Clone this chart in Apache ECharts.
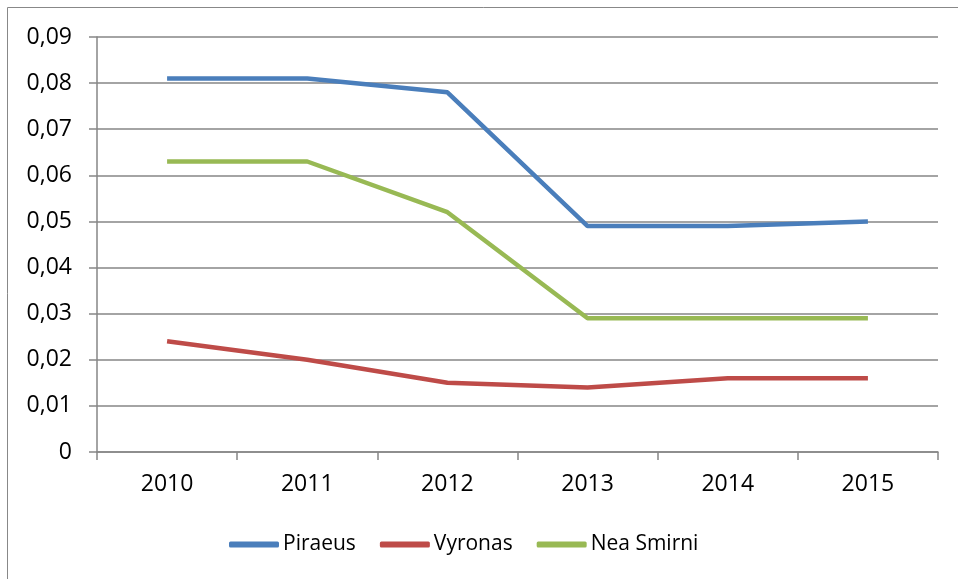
<!DOCTYPE html>
<html><head><meta charset="utf-8">
<script src="https://cdn.jsdelivr.net/npm/echarts@6/dist/echarts.min.js"></script>
<style>html,body{margin:0;padding:0;background:#fff}#c{width:958px;height:579px}</style>
</head><body><div id="c"></div>
<script>
const years = ['2010','2011','2012','2013','2014','2015'];
const piraeus = [0.081, 0.081, 0.078, 0.049, 0.049, 0.050];
const vyronas = [0.024, 0.020, 0.015, 0.014, 0.016, 0.016];
const neaSmirni = [0.063, 0.063, 0.052, 0.029, 0.029, 0.029];
const seriesNames = ['Piraeus', 'Vyronas', 'Nea Smirni'];
const colors = ['#4a7ebb', '#be4b48', '#98b954'];

const chart = echarts.init(document.getElementById('c'), null, {renderer: 'canvas'});
const font = '"Open Sans", "Liberation Sans", sans-serif';
const mk = (name, data, color) => ({
  name, type: 'line', data, symbol: 'none', smooth: false,
  lineStyle: {color, width: 4.5}, itemStyle: {color}, z: 3
});
chart.setOption({
  animation: false,
  graphic: [{type: 'rect', shape: {x: 7.5, y: 7.5, width: 1000, height: 1000},
    style: {fill: 'none', stroke: '#888888', lineWidth: 1}, silent: true}],
  grid: {left: 97, right: 20, top: 37, bottom: 127, containLabel: false},
  legend: {
    data: seriesNames, left: 224, top: 529, itemWidth: 50, itemHeight: 6, itemGap: 24,
    icon: 'roundRect',
    textStyle: {fontFamily: font, fontSize: 21, color: '#000', padding: [0, 0, 0, -1]}
  },
  xAxis: {
    type: 'category', data: years, boundaryGap: true,
    axisLine: {lineStyle: {color: '#868686', width: 1.5}},
    axisTick: {show: true, length: 8, lineStyle: {color: '#868686', width: 1.5}},
    axisLabel: {fontFamily: font, fontSize: 23, color: '#000', margin: 21},
    splitLine: {show: false}
  },
  yAxis: {
    type: 'value', min: 0, max: 0.09, interval: 0.01,
    axisLine: {show: true, lineStyle: {color: '#868686', width: 1.5}},
    axisTick: {show: true, length: 8, lineStyle: {color: '#868686', width: 1.5}},
    axisLabel: {fontFamily: font, fontSize: 23, color: '#000', margin: 25,
      formatter: v => v === 0 ? '0' : v.toFixed(2).replace('.', ',')},
    splitLine: {show: true, lineStyle: {color: '#868686', width: 1.5}}
  },
  series: [mk(seriesNames[0], piraeus, colors[0]), mk(seriesNames[1], vyronas, colors[1]), mk(seriesNames[2], neaSmirni, colors[2])]
});
</script></body></html>
